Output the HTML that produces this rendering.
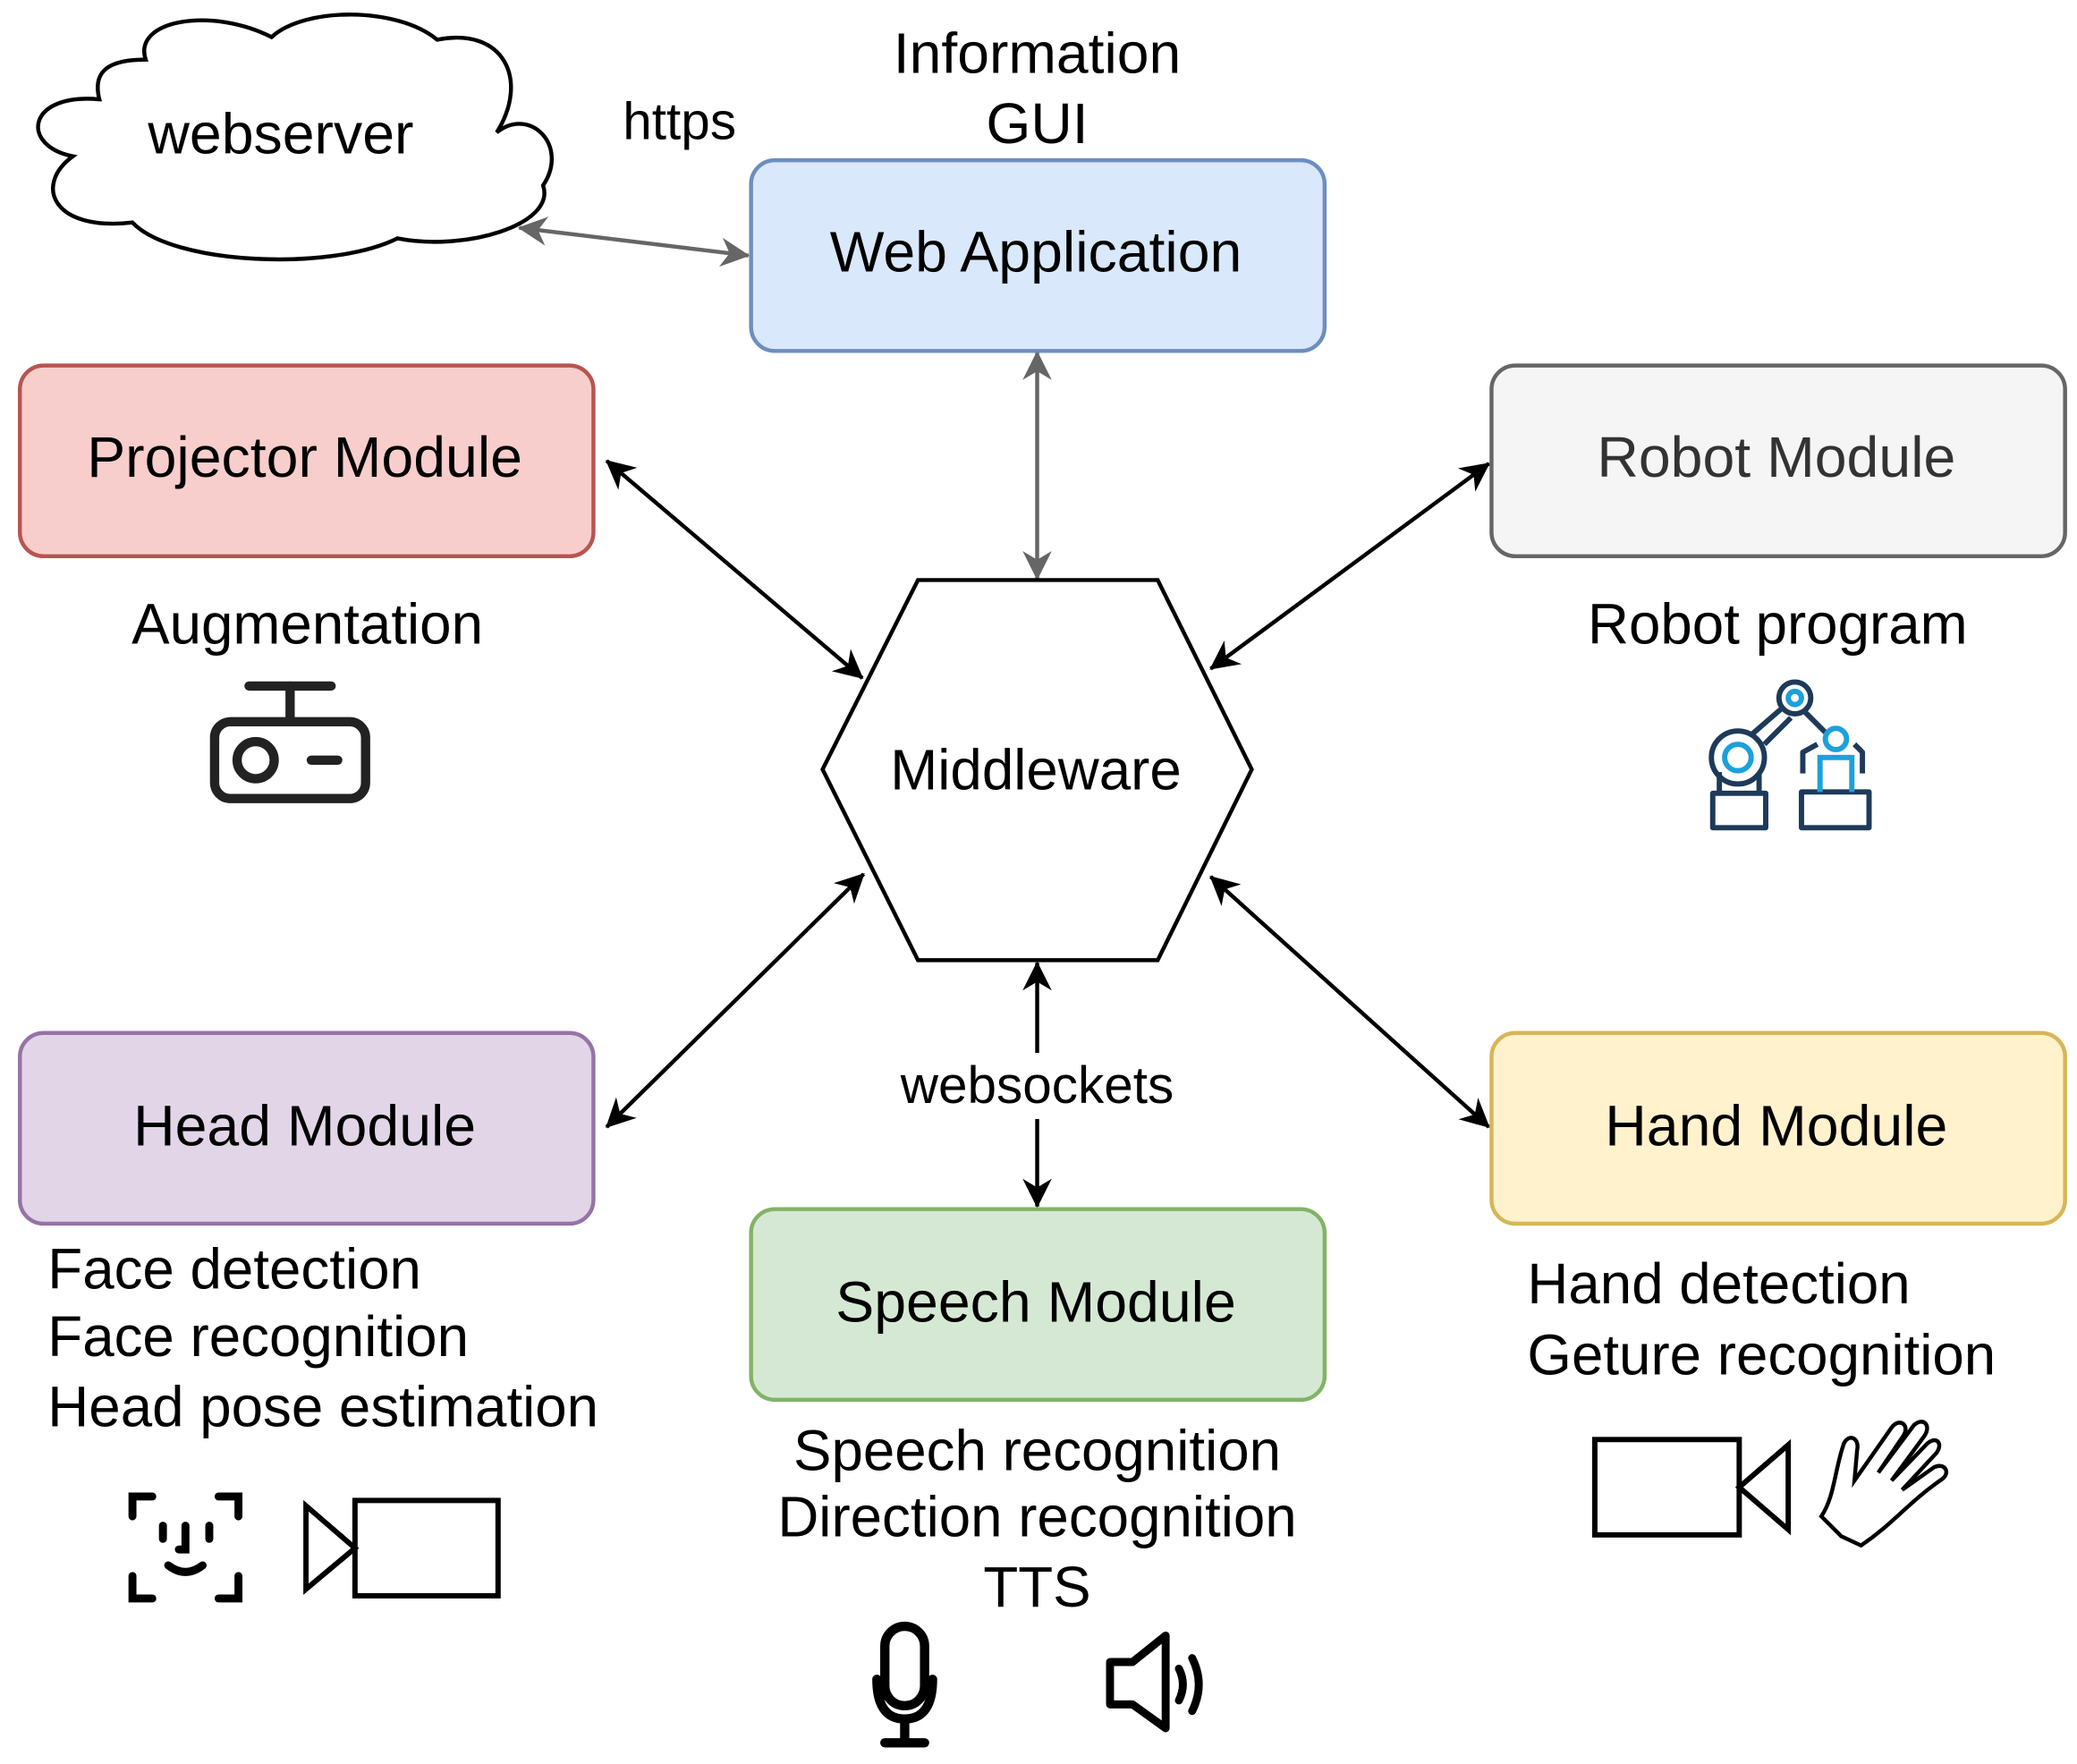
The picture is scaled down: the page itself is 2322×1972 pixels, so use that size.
<!DOCTYPE html>
<html><head><meta charset="utf-8"><style>html,body{margin:0;padding:0;background:#fff}svg{display:block}</style></head>
<body>
<svg width="2322" height="1972" viewBox="0 0 1568 1332" preserveAspectRatio="none" xmlns="http://www.w3.org/2000/svg" font-family="Liberation Sans, Arial, sans-serif">
<defs>
<marker id="ab" viewBox="0 0 10 10" refX="9.5" refY="5" markerWidth="26" markerHeight="22" orient="auto-start-reverse" markerUnits="userSpaceOnUse"><path d="M0,0 L10,5 L0,10 L3,5 z" fill="#000"/></marker>
<marker id="ag" viewBox="0 0 10 10" refX="9.5" refY="5" markerWidth="26" markerHeight="22" orient="auto-start-reverse" markerUnits="userSpaceOnUse"><path d="M0,0 L10,5 L0,10 L3,5 z" fill="#666"/></marker>
</defs>
<!-- cloud -->
<path d="M75,75 C20,70 15,110 55,118 C25,140 40,175 100,168 C130,200 250,205 300,180 C350,190 420,170 410,140 C430,110 400,80 375,100 C400,60 380,20 330,30 C300,5 230,5 205,28 C160,5 100,15 110,45 C80,45 70,55 75,75 Z" fill="#fff" stroke="#000" stroke-width="3"/>
<text x="212" y="116" font-size="43.5" text-anchor="middle">webserver</text>
<text x="513" y="105" font-size="39.5" text-anchor="middle">https</text>
<text x="783" y="55" font-size="43.4" text-anchor="middle">Information</text>
<text x="783" y="108" font-size="43.4" text-anchor="middle">GUI</text>
<!-- arrows -->
<line x1="392" y1="172" x2="565" y2="193" stroke="#666" stroke-width="3" marker-start="url(#ag)" marker-end="url(#ag)"/>
<line x1="783" y1="266" x2="783" y2="437" stroke="#666" stroke-width="3" marker-start="url(#ag)" marker-end="url(#ag)"/>
<line x1="458" y1="348" x2="651" y2="512" stroke="#000" stroke-width="3" marker-start="url(#ab)" marker-end="url(#ab)"/>
<line x1="1124" y1="350" x2="914" y2="505" stroke="#000" stroke-width="3" marker-start="url(#ab)" marker-end="url(#ab)"/>
<line x1="458" y1="851" x2="652" y2="660" stroke="#000" stroke-width="3" marker-start="url(#ab)" marker-end="url(#ab)"/>
<line x1="1124" y1="851" x2="914" y2="662" stroke="#000" stroke-width="3" marker-start="url(#ab)" marker-end="url(#ab)"/>
<line x1="783" y1="727" x2="783" y2="795" stroke="#000" stroke-width="3" marker-start="url(#ab)"/>
<line x1="783" y1="845" x2="783" y2="911" stroke="#000" stroke-width="3" marker-end="url(#ab)"/>
<text x="783" y="833" font-size="39.5" text-anchor="middle">websockets</text>
<!-- boxes -->
<rect x="567" y="121" width="433" height="144" rx="18" fill="#dae8fc" stroke="#6c8ebf" stroke-width="3"/>
<text x="782" y="205" font-size="43.5" text-anchor="middle">Web Application</text>
<rect x="15" y="276" width="433" height="144" rx="18" fill="#f8cecc" stroke="#b85450" stroke-width="3"/>
<text x="230" y="360" font-size="43.5" text-anchor="middle">Projector Module</text>
<rect x="1126" y="276" width="433" height="144" rx="18" fill="#f5f5f5" stroke="#666" stroke-width="3"/>
<text x="1341" y="360" font-size="43.5" text-anchor="middle" fill="#333">Robot Module</text>
<rect x="15" y="780" width="433" height="144" rx="18" fill="#e1d5e7" stroke="#9673a6" stroke-width="3"/>
<text x="230" y="865" font-size="43.5" text-anchor="middle">Head Module</text>
<rect x="1126" y="780" width="433" height="144" rx="18" fill="#fff2cc" stroke="#d6b656" stroke-width="3"/>
<text x="1341" y="865" font-size="43.5" text-anchor="middle">Hand Module</text>
<rect x="567" y="913" width="433" height="144" rx="18" fill="#d5e8d4" stroke="#82b366" stroke-width="3"/>
<text x="782" y="998" font-size="43.5" text-anchor="middle">Speech Module</text>
<polygon points="693,438 874,438 945,581 874,725 693,725 621,581" fill="#fff" stroke="#000" stroke-width="3"/>
<text x="782" y="596" font-size="43" text-anchor="middle">Middleware</text>
<!-- labels -->
<text x="232" y="486" font-size="43" text-anchor="middle">Augmentation</text>
<text x="1342" y="486" font-size="43" text-anchor="middle">Robot program</text>
<g font-size="43"><text x="36" y="973">Face detection</text><text x="36" y="1024">Face recognition</text><text x="36" y="1077">Head pose estimation</text>
<text x="1153" y="984">Hand detection</text><text x="1153" y="1038">Geture recognition</text>
<text x="783" y="1110" text-anchor="middle">Speech recognition</text><text x="783" y="1160" text-anchor="middle">Direction recognition</text><text x="783" y="1213" text-anchor="middle">TTS</text></g>
<!-- projector icon -->
<g fill="none" stroke="#222" stroke-width="7" stroke-linecap="round">
<rect x="162" y="545" width="114" height="58" rx="12"/><line x1="219" y1="518" x2="219" y2="545"/><line x1="188" y1="518" x2="250" y2="518"/><circle cx="193" cy="574" r="14"/><line x1="235" y1="574" x2="255" y2="574"/></g>
<!-- face icon -->
<g fill="none" stroke="#000" stroke-width="6" stroke-linecap="round">
<path d="M100,1145 V1130 H115 M165,1130 H180 V1145 M180,1190 V1207 H165 M115,1207 H100 V1190"/>
<line x1="123" y1="1152" x2="123" y2="1162"/><line x1="158" y1="1152" x2="158" y2="1162"/><path d="M140,1152 V1170 H135"/><path d="M127,1182 Q140,1192 153,1182"/></g>
<!-- cameras -->
<g fill="none" stroke="#000" stroke-width="4"><polygon points="231,1137 268,1169 231,1200"/><rect x="268" y="1133" width="108" height="72"/>
<rect x="1204" y="1087" width="109" height="72"/><polygon points="1350,1091 1313,1123 1350,1155"/></g>
<!-- hand -->
<path d="M1390,1160 L1375,1145 C1385,1130 1385,1110 1392,1090 C1396,1082 1404,1086 1402,1095 L1400,1118 L1428,1078 C1434,1070 1442,1076 1437,1084 L1418,1112 L1445,1076 C1452,1070 1458,1076 1453,1084 L1428,1118 L1455,1090 C1462,1084 1467,1090 1462,1097 L1436,1125 L1460,1108 C1468,1104 1473,1112 1466,1117 C1440,1135 1430,1150 1405,1167 Z" fill="none" stroke="#000" stroke-width="3"/>
<!-- mic -->
<g fill="none" stroke="#000" stroke-width="7" stroke-linecap="round"><rect x="668" y="1228" width="30" height="60" rx="15"/><path d="M662,1268 Q662,1298 683,1298 Q704,1298 704,1268"/><line x1="683" y1="1298" x2="683" y2="1316"/><line x1="668" y1="1316" x2="698" y2="1316"/></g>
<!-- speaker -->
<g fill="none" stroke="#000" stroke-width="6" stroke-linejoin="round" stroke-linecap="round"><path d="M838,1255 H855 L880,1235 V1305 L855,1287 H838 Z"/><path d="M890,1260 Q896,1272 890,1284"/><path d="M900,1252 Q910,1272 900,1292"/></g>
<!-- robot arm -->
<g fill="none" stroke="#1e3a5a" stroke-width="4" stroke-linejoin="round">
<rect x="1293" y="599" width="40" height="26"/><path d="M1298,599 V583 M1328,599 V583"/>
<circle cx="1312" cy="572" r="20"/><line x1="1322" y1="555" x2="1345" y2="535"/><line x1="1332" y1="562" x2="1352" y2="542"/>
<circle cx="1355" cy="527" r="12"/><line x1="1362" y1="537" x2="1378" y2="553"/>
<path d="M1361,584 V568 L1372,562 M1400,562 L1406,568 V584"/>
<rect x="1360" y="598" width="51" height="27"/></g>
<g fill="none" stroke="#1ca0dc" stroke-width="4"><circle cx="1312" cy="572" r="10"/><circle cx="1355" cy="527" r="5"/><circle cx="1386" cy="558" r="8"/><path d="M1374,598 V572 H1398 V598"/></g>
</svg>
</body></html>
